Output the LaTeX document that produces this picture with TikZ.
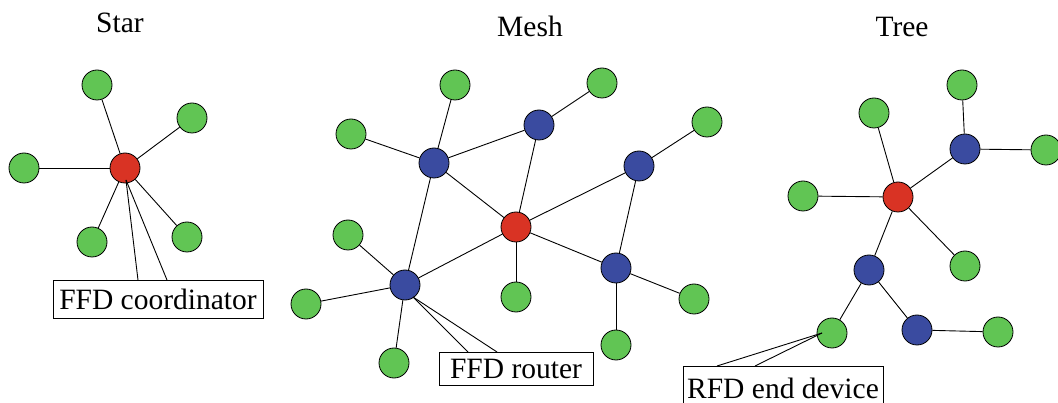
\documentclass[tikz,border=0pt]{standalone}
\usepackage{fontspec}
\setmainfont{Liberation Serif}
\definecolor{ngreen}{RGB}{97,197,84}
\definecolor{nred}{RGB}{217,51,36}
\definecolor{nblue}{RGB}{58,75,160}
\begin{document}
\begin{tikzpicture}[x=1pt,y=-1pt,
  dev/.style={circle,draw=black,line width=0.8pt,inner sep=0pt,minimum size=30pt},
  enddev/.style={dev,fill=ngreen},
  coord/.style={dev,fill=nred},
  router/.style={dev,fill=nblue},
  link/.style={line width=0.9pt},
  title/.style={font=\fontsize{29.5}{34}\selectfont,anchor=base,inner sep=0pt},
  labelbox/.style={draw=black,line width=0.8pt,font=\fontsize{29.5}{34}\selectfont,inner sep=0pt,fill=white}]
\clip (0,0) rectangle (1058,403);
\fill[white] (0,0) rectangle (1058,403);

% Titles
\node[title] (tstar) at (120,33) {Star};
\node[title] (tmesh) at (530,37) {Mesh};
\node[title] (ttree) at (902,37) {Tree};

% ---------- Star ----------
\node[coord] (sr) at (125,168) {};
\node[enddev] (s1) at (97,85) {};
\node[enddev] (s2) at (192,118) {};
\node[enddev] (s3) at (24,168) {};
\node[enddev] (s4) at (92,242) {};
\node[enddev] (s5) at (187,237) {};
\foreach \n in {s1,s2,s3,s4,s5} \draw[link] (sr) -- (\n);

\node[labelbox,minimum width=210pt,minimum height=38pt] (lcoord) at (158,299) {FFD coordinator};
\coordinate (sc0) at (126,180);
\coordinate (sc1) at (138,280);
\coordinate (sc2) at (167,280);
\draw[link] (sc0) -- (sc1);
\draw[link] (sc0) -- (sc2);

% ---------- Mesh ----------
\node[coord] (mr) at (516,227) {};
\node[router] (m1) at (434,163) {};
\node[router] (m2) at (539,125) {};
\node[router] (m3) at (639,166) {};
\node[router] (m4) at (405,285) {};
\node[router] (m5) at (616,268) {};
\node[enddev] (ma) at (455,85) {};
\node[enddev] (mb) at (602,83) {};
\node[enddev] (mc) at (351,134) {};
\node[enddev] (md) at (707,122) {};
\node[enddev] (me) at (348,235) {};
\node[enddev] (mf) at (306,304) {};
\node[enddev] (mg) at (516,297) {};
\node[enddev] (mh) at (694,299) {};
\node[enddev] (mi) at (394,363) {};
\node[enddev] (mj) at (616,345) {};
\draw[link] (ma) -- (m1);
\draw[link] (mc) -- (m1);
\draw[link] (m1) -- (m2);
\draw[link] (mb) -- (m2);
\draw[link] (m2) -- (mr);
\draw[link] (m1) -- (mr);
\draw[link] (m1) -- (m4);
\draw[link] (md) -- (m3);
\draw[link] (m3) -- (mr);
\draw[link] (m3) -- (m5);
\draw[link] (mr) -- (m4);
\draw[link] (mr) -- (mg);
\draw[link] (mr) -- (m5);
\draw[link] (me) -- (m4);
\draw[link] (mf) -- (m4);
\draw[link] (mi) -- (m4);
\draw[link] (m5) -- (mh);
\draw[link] (m5) -- (mj);

\node[labelbox,minimum width=154pt,minimum height=33pt] (lrouter) at (516,368.5) {FFD router};
\coordinate (mc0) at (413,297);
\coordinate (mc1) at (468,352);
\coordinate (mc2) at (497,352);
\draw[link] (mc0) -- (mc1);
\draw[link] (mc0) -- (mc2);

% ---------- Tree ----------
\node[coord] (tr) at (898,197) {};
\node[router] (t1) at (965,149) {};
\node[router] (t2) at (869,270) {};
\node[router] (t3) at (917,330) {};
\node[enddev] (ta) at (962,85) {};
\node[enddev] (tb) at (874,113) {};
\node[enddev] (tc) at (1046,150) {};
\node[enddev] (td) at (803,196) {};
\node[enddev] (te) at (965,266) {};
\node[enddev] (tf) at (832,333) {};
\node[enddev] (tg) at (998,332) {};
\draw[link] (tb) -- (tr);
\draw[link] (ta) -- (t1);
\draw[link] (t1) -- (tc);
\draw[link] (t1) -- (tr);
\draw[link] (td) -- (tr);
\draw[link] (tr) -- (te);
\draw[link] (tr) -- (t2);
\draw[link] (t2) -- (tf);
\draw[link] (t2) -- (t3);
\draw[link] (t3) -- (tg);

\node[labelbox,minimum width=200pt,minimum height=44pt,anchor=north] (lrfd) at (783,366) {\raisebox{-4pt}{RFD end device}};
\coordinate (tc0) at (822,333);
\coordinate (tc1) at (717,366);
\coordinate (tc2) at (755,366);
\draw[link] (tc0) -- (tc1);
\draw[link] (tc0) -- (tc2);
\end{tikzpicture}
\end{document}
